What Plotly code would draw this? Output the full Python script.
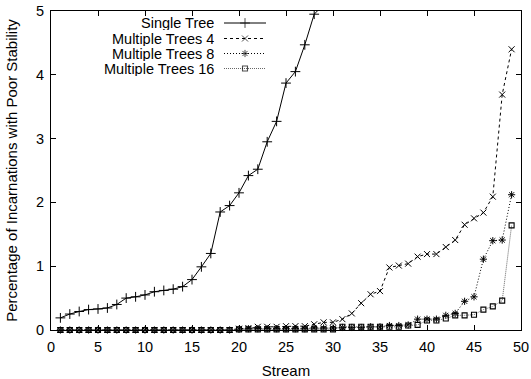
import plotly.graph_objects as go

# ---- data ----
stream_single = list(range(1, 30))
single_tree = [0.19, 0.25, 0.29, 0.32, 0.33, 0.345, 0.40, 0.50, 0.52, 0.55,
               0.60, 0.62, 0.64, 0.68, 0.79, 0.99, 1.20, 1.85, 1.95, 2.15,
               2.42, 2.52, 2.95, 3.27, 3.87, 4.05, 4.47, 4.95, 5.10]

stream = list(range(1, 50))
multi_4 = [0]*19 + [0.02, 0.03, 0.05, 0.05, 0.05, 0.06, 0.06, 0.06, 0.09, 0.12,
                    0.12, 0.17, 0.26, 0.42, 0.56, 0.61, 0.98, 1.01, 1.04, 1.15,
                    1.19, 1.19, 1.30, 1.41, 1.65, 1.75, 1.84, 2.09, 3.69, 4.40]
multi_8 = [0]*19 + [0.01, 0.02, 0.02, 0.02, 0.02, 0.02, 0.02, 0.02, 0.03, 0.03,
                    0.03, 0.04, 0.04, 0.04, 0.05, 0.05, 0.07, 0.07, 0.08, 0.17,
                    0.17, 0.17, 0.23, 0.26, 0.45, 0.52, 1.11, 1.40, 1.41, 2.12]
multi_16 = [0]*19 + [0.01, 0.01, 0.01, 0.01, 0.01, 0.01, 0.01, 0.01, 0.01, 0.01,
                     0.01, 0.05, 0.05, 0.05, 0.05, 0.05, 0.05, 0.05, 0.07, 0.08,
                     0.15, 0.15, 0.18, 0.23, 0.23, 0.24, 0.32, 0.37, 0.46, 1.64]

series_names = ["Single Tree", "Multiple Trees 4", "Multiple Trees 8", "Multiple Trees 16"]
x_ticks = [0, 5, 10, 15, 20, 25, 30, 35, 40, 45, 50]
y_ticks = [0, 1, 2, 3, 4, 5]

FONT = "Liberation Sans, Arial, Helvetica, sans-serif"

styles = [
    dict(line=dict(color="black", width=1, dash="solid"),
         marker=dict(symbol="cross-thin", size=7, line=dict(color="black", width=1), color="black")),
    dict(line=dict(color="black", width=1, dash="3px,3px"),
         marker=dict(symbol="x-thin", size=6, line=dict(color="black", width=1), color="black")),
    dict(line=dict(color="black", width=1, dash="1px,2px"),
         marker=dict(symbol="asterisk", size=6, line=dict(color="black", width=1), color="black")),
    dict(line=dict(color="#666666", width=1, dash="1px,1px"),
         marker=dict(symbol="square-open", size=5, line=dict(color="black", width=1.1), color="black")),
]

xs = [stream_single, stream, stream, stream]
ys = [single_tree, multi_4, multi_8, multi_16]

fig = go.Figure()
for i in range(4):
    fig.add_trace(go.Scatter(
        x=xs[i], y=ys[i], mode="lines+markers", name=series_names[i],
        line=styles[i]["line"], marker=styles[i]["marker"],
        cliponaxis=(i == 0), showlegend=False,
    ))

# manual gnuplot-style legend (text right, sample on the right), in pixel-like overlay axes
leg_rows = [23, 38.5, 53.5, 68.5]
for i in range(4):
    fig.add_trace(go.Scatter(
        x=[224, 245, 266], y=[leg_rows[i]]*3, xaxis="x2", yaxis="y2",
        mode="lines+markers", line=styles[i]["line"],
        marker=dict(symbol=styles[i]["marker"]["symbol"],
                    size=[0, styles[i]["marker"]["size"], 0],
                    line=styles[i]["marker"]["line"], color="black"),
        showlegend=False, hoverinfo="skip", cliponaxis=False,
    ))
    fig.add_annotation(x=216, y=leg_rows[i], xref="x2", yref="y2",
                       text=series_names[i], showarrow=False,
                       xanchor="right", yanchor="middle", height=14, valign="middle",
                       font=dict(family=FONT, size=14.5, color="black"))

axis_common = dict(showline=True, linecolor="black", linewidth=1, mirror="ticks",
                   ticks="inside", ticklen=5, tickcolor="black", showgrid=False,
                   zeroline=False, automargin=False,
                   tickfont=dict(family=FONT, size=14.5, color="black"))

fig.update_layout(
    width=531, height=379,
    margin=dict(l=51, r=10, t=11, b=49, autoexpand=False),
    paper_bgcolor="white", plot_bgcolor="white",
    font=dict(family=FONT, size=14, color="black"),
    xaxis=dict(range=[0, 50], tickvals=x_ticks, ticklabelstandoff=4,
               title=dict(text="Stream", font=dict(family=FONT, size=15), standoff=14),
               **axis_common),
    yaxis=dict(range=[0, 5], tickvals=y_ticks, ticklabelstandoff=3,
               title=dict(text="Percentage of Incarnations with Poor Stability",
                          font=dict(family=FONT, size=15), standoff=14),
               **axis_common),
    xaxis2=dict(range=[51, 521], overlaying="x", visible=False, fixedrange=True),
    yaxis2=dict(range=[330, 11], overlaying="y", visible=False, fixedrange=True),
)

fig.write_html("out.html")
